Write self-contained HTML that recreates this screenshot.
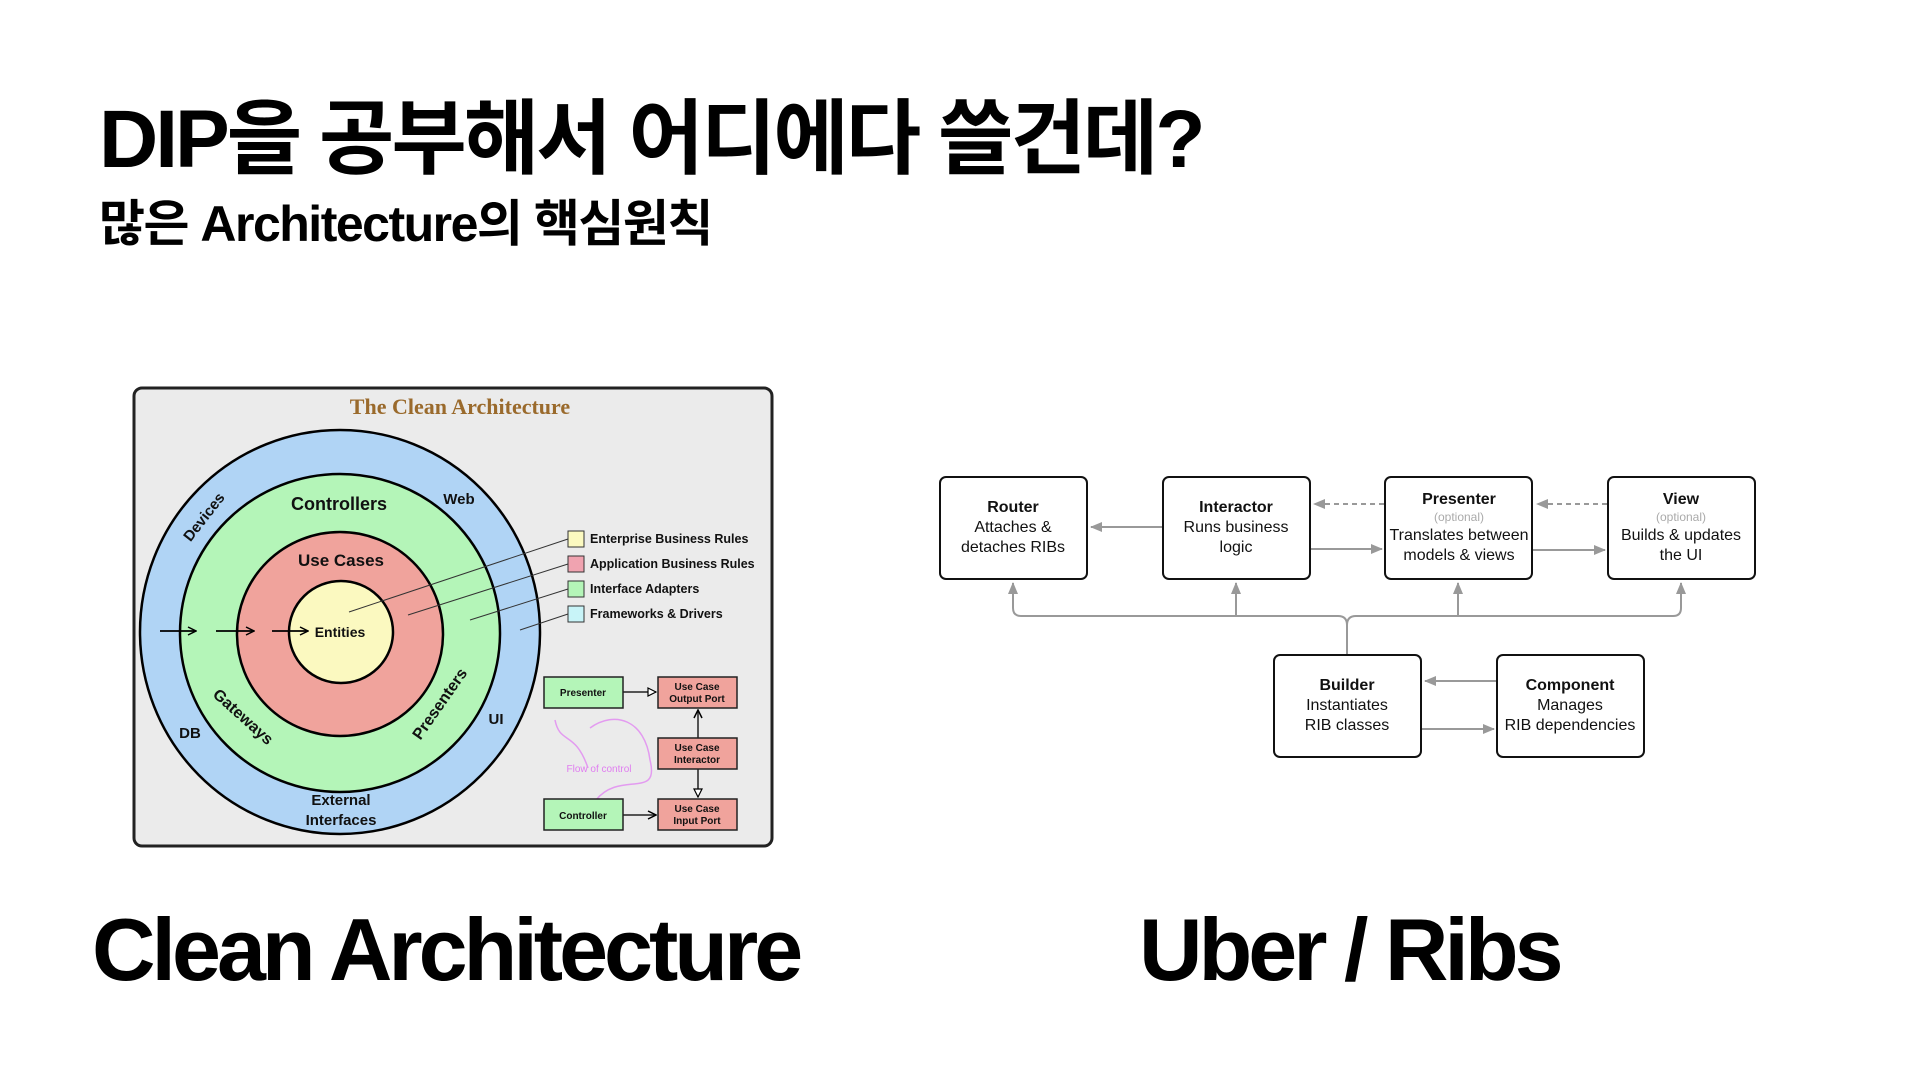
<!DOCTYPE html>
<html><head><meta charset="utf-8"><style>
html,body{margin:0;padding:0;background:#fff;width:1920px;height:1080px;overflow:hidden}
body{position:relative;font-family:"Liberation Sans","Noto Sans CJK KR",sans-serif}
.t{position:absolute;white-space:nowrap;font-weight:bold;color:#000}
</style></head><body>
<div class="t" style="left:99px;top:90px;font-size:82px;letter-spacing:-3px;line-height:100px">DIP을 공부해서 어디에다 쓸건데?</div>
<div class="t" style="left:99px;top:194px;font-size:50px;letter-spacing:-1.5px;line-height:60px">많은 Architecture의 핵심원칙</div>
<div class="t" style="left:92px;top:900px;font-size:88px;letter-spacing:-4px;line-height:100px">Clean Architecture</div>
<div class="t" style="left:1139px;top:900px;font-size:88px;letter-spacing:-4px;line-height:100px">Uber / Ribs</div>

<svg width="1920" height="1080" style="position:absolute;left:0;top:0" font-family="Liberation Sans, sans-serif">
<defs>
<marker id="ab" markerWidth="10" markerHeight="10" refX="9" refY="5" orient="auto" markerUnits="userSpaceOnUse"><path d="M1,1 L9,5 L1,9" fill="none" stroke="#000" stroke-width="1.5"/></marker>
<marker id="ag" markerWidth="12" markerHeight="10" refX="11" refY="5" orient="auto" markerUnits="userSpaceOnUse"><path d="M0,0 L12,5 L0,10 Z" fill="#999"/></marker>
<marker id="at" markerWidth="10" markerHeight="10" refX="9" refY="5" orient="auto" markerUnits="userSpaceOnUse"><path d="M1,1 L9,5 L1,9 Z" fill="#fff" stroke="#000" stroke-width="1.2"/></marker>
</defs>
<!-- Clean architecture panel -->
<rect x="134" y="388" width="638" height="458" rx="8" fill="#ebebeb" stroke="#222" stroke-width="3"/>
<text x="460" y="414" text-anchor="middle" font-family="Liberation Serif, serif" font-size="22" font-weight="bold" fill="#9a6a2c">The Clean Architecture</text>
<ellipse cx="340" cy="632" rx="200" ry="202" fill="#b0d4f5" stroke="#000" stroke-width="2.5"/>
<ellipse cx="340" cy="633" rx="160" ry="159" fill="#b4f5b8" stroke="#000" stroke-width="2.5"/>
<ellipse cx="340" cy="634" rx="103" ry="102" fill="#f0a39c" stroke="#000" stroke-width="2.5"/>
<ellipse cx="341" cy="632" rx="52" ry="51" fill="#fbf9c0" stroke="#000" stroke-width="2.5"/>
<g stroke="#000" stroke-width="1.8" marker-end="url(#ab)"><line x1="160" y1="631" x2="196" y2="631"/><line x1="216" y1="631" x2="254" y2="631"/><line x1="272" y1="631" x2="308" y2="631"/></g>
<g stroke="#333" stroke-width="1"><line x1="568" y1="539" x2="349" y2="612"/><line x1="568" y1="564" x2="408" y2="615"/><line x1="568" y1="589" x2="470" y2="620"/><line x1="568" y1="614" x2="520" y2="630"/></g>
<g font-weight="bold" fill="#111">
<text x="339" y="510" text-anchor="middle" font-size="18">Controllers</text>
<text x="341" y="566" text-anchor="middle" font-size="17">Use Cases</text>
<text x="340" y="637" text-anchor="middle" font-size="14">Entities</text>
<text x="459" y="504" text-anchor="middle" font-size="15">Web</text>
<text x="204" y="522" text-anchor="middle" font-size="15" transform="rotate(-52 204 517)">Devices</text>
<text x="190" y="738" text-anchor="middle" font-size="15">DB</text>
<text x="496" y="724" text-anchor="middle" font-size="15">UI</text>
<text x="243" y="722" text-anchor="middle" font-size="16" transform="rotate(42 243 717)">Gateways</text>
<text x="440" y="709" text-anchor="middle" font-size="16" transform="rotate(-55 440 704)">Presenters</text>
<text x="341" y="805" text-anchor="middle" font-size="15">External</text>
<text x="341" y="825" text-anchor="middle" font-size="15">Interfaces</text>
</g>
<g stroke="#333" stroke-width="1">
<rect x="568" y="531" width="16" height="16" fill="#fbf9c0"/><rect x="568" y="556" width="16" height="16" fill="#f0a3b0"/>
<rect x="568" y="581" width="16" height="16" fill="#b4f5b8"/><rect x="568" y="606" width="16" height="16" fill="#c8f4f8"/>
</g>
<g font-size="12.5" font-weight="bold" fill="#111">
<text x="590" y="543">Enterprise Business Rules</text><text x="590" y="568">Application Business Rules</text>
<text x="590" y="593">Interface Adapters</text><text x="590" y="618">Frameworks &amp; Drivers</text>
</g>
<path d="M588,768 C575,730 560,745 555,720" fill="none" stroke="#e39bf0" stroke-width="1.5"/>
<path d="M596,800 C620,770 660,800 650,760 C645,720 615,710 590,728" fill="none" stroke="#e39bf0" stroke-width="1.5"/>
<text x="599" y="772" text-anchor="middle" font-size="10" fill="#e07ef0">Flow of control</text>
<g stroke="#222" stroke-width="1.5">
<rect x="544" y="677" width="79" height="31" fill="#b4f5b8"/><rect x="658" y="677" width="79" height="31" fill="#f0a39c"/>
<rect x="658" y="738" width="79" height="31" fill="#f0a39c"/><rect x="544" y="799" width="79" height="31" fill="#b4f5b8"/>
<rect x="658" y="799" width="79" height="31" fill="#f0a39c"/>
<line x1="623" y1="692" x2="656" y2="692" marker-end="url(#at)"/>
<line x1="698" y1="738" x2="698" y2="710" marker-end="url(#ab)"/>
<line x1="698" y1="769" x2="698" y2="797" marker-end="url(#at)"/>
<line x1="623" y1="815" x2="656" y2="815" marker-end="url(#ab)"/>
</g>
<g font-size="10" font-weight="bold" text-anchor="middle" fill="#111">
<text x="583" y="696">Presenter</text><text x="697" y="690">Use Case</text><text x="697" y="702">Output Port</text>
<text x="697" y="751">Use Case</text><text x="697" y="763">Interactor</text>
<text x="583" y="819">Controller</text><text x="697" y="812">Use Case</text><text x="697" y="824">Input Port</text>
</g>

<!-- RIBs -->
<g stroke="#999" stroke-width="2" fill="none">
<path d="M1347,654 V625 Q1347,616 1338,616 H1021 Q1013,616 1013,608 V583" marker-end="url(#ag)"/>
<path d="M1236,616 Q1236,612 1236,608 V583" marker-end="url(#ag)"/>
<path d="M1347,625 Q1347,616 1356,616 H1673 Q1681,616 1681,608 V583" marker-end="url(#ag)"/>
<path d="M1458,616 V583" marker-end="url(#ag)"/>
<line x1="1162" y1="527" x2="1091" y2="527" marker-end="url(#ag)"/>
<line x1="1310" y1="549" x2="1382" y2="549" marker-end="url(#ag)"/>
<line x1="1533" y1="550" x2="1605" y2="550" marker-end="url(#ag)"/>
<line x1="1384" y1="504" x2="1314" y2="504" stroke-dasharray="5,4" marker-end="url(#ag)"/>
<line x1="1607" y1="504" x2="1537" y2="504" stroke-dasharray="5,4" marker-end="url(#ag)"/>
<line x1="1496" y1="681" x2="1425" y2="681" marker-end="url(#ag)"/>
<line x1="1421" y1="729" x2="1494" y2="729" marker-end="url(#ag)"/>
</g>
<g fill="#fff" stroke="#111" stroke-width="2">
<rect x="940" y="477" width="147" height="102" rx="6"/><rect x="1163" y="477" width="147" height="102" rx="6"/>
<rect x="1385" y="477" width="147" height="102" rx="6"/><rect x="1608" y="477" width="147" height="102" rx="6"/>
<rect x="1274" y="655" width="147" height="102" rx="6"/><rect x="1497" y="655" width="147" height="102" rx="6"/>
</g>
<g font-size="16" text-anchor="middle" fill="#111">
<text x="1013" y="512" font-weight="bold">Router</text><text x="1013" y="532">Attaches &amp;</text><text x="1013" y="552">detaches RIBs</text>
<text x="1236" y="512" font-weight="bold">Interactor</text><text x="1236" y="532">Runs business</text><text x="1236" y="552">logic</text>
<text x="1459" y="504" font-weight="bold">Presenter</text><text x="1459" y="521" font-size="12" fill="#aaa">(optional)</text><text x="1459" y="540">Translates between</text><text x="1459" y="560">models &amp; views</text>
<text x="1681" y="504" font-weight="bold">View</text><text x="1681" y="521" font-size="12" fill="#aaa">(optional)</text><text x="1681" y="540">Builds &amp; updates</text><text x="1681" y="560">the UI</text>
<text x="1347" y="690" font-weight="bold">Builder</text><text x="1347" y="710">Instantiates</text><text x="1347" y="730">RIB classes</text>
<text x="1570" y="690" font-weight="bold">Component</text><text x="1570" y="710">Manages</text><text x="1570" y="730">RIB dependencies</text>
</g>
</svg>
</body></html>
